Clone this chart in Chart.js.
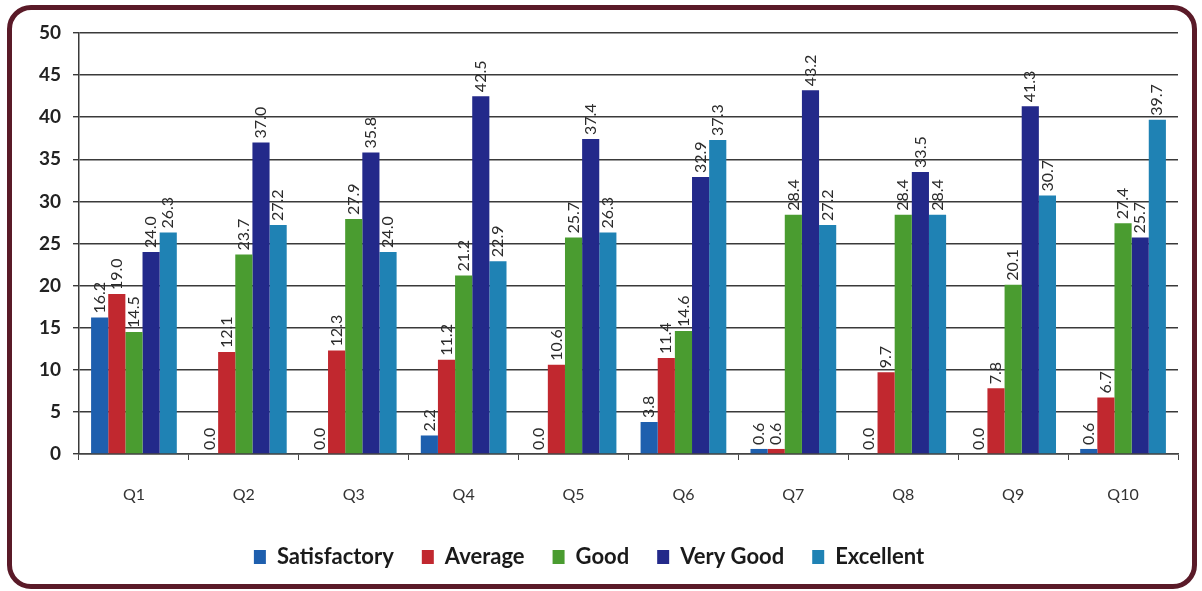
<!DOCTYPE html>
<html>
<head>
<meta charset="utf-8">
<script src="https://cdn.jsdelivr.net/npm/chart.js@4"></script>
<style>
    body { margin: 0; background: #fff; }
    .frame {
        position: absolute; left: 7px; top: 5px; width: 1180px; height: 574px;
        border: 5px solid #5a1a28; border-radius: 24px;
    }
    #wrap { position: absolute; left: 0; top: 0; width: 1202px; height: 591px; }
</style>
</head>
<body>
<div class="frame"></div>
<div id="wrap"><canvas id="surveyChart" width="1202" height="591"></canvas></div>
<script>
// Survey data per question
const questions = ['Q1', 'Q2', 'Q3', 'Q4', 'Q5', 'Q6', 'Q7', 'Q8', 'Q9', 'Q10'];
const satisfactory = [16.2, 0.0, 0.0, 2.2, 0.0, 3.8, 0.6, 0.0, 0.0, 0.6];
const average = [19.0, 12.1, 12.3, 11.2, 10.6, 11.4, 0.6, 9.7, 7.8, 6.7];
const good = [14.5, 23.7, 27.9, 21.2, 25.7, 14.6, 28.4, 28.4, 20.1, 27.4];
const veryGood = [24.0, 37.0, 35.8, 42.5, 37.4, 32.9, 43.2, 33.5, 41.3, 25.7];
const excellent = [26.3, 27.2, 24.0, 22.9, 26.3, 37.3, 27.2, 28.4, 30.7, 39.7];
const yTicks = [0, 5, 10, 15, 20, 25, 30, 35, 40, 45, 50];

const font = 'Lato, "Open Sans", sans-serif';

// Draw the rotated value labels above each bar
const barLabels = {
    id: 'barLabels',
    afterDatasetsDraw(chart) {
        const ctx = chart.ctx;
        ctx.save();
        ctx.fillStyle = '#2b2b2b';
        ctx.font = '16px ' + font;
        chart.data.datasets.forEach((ds, i) => {
            chart.getDatasetMeta(i).data.forEach((bar, j) => {
                ctx.save();
                ctx.translate(bar.x, bar.y - 4);
                ctx.rotate(-Math.PI / 2);
                ctx.textAlign = 'left';
                ctx.textBaseline = 'middle';
                ctx.fillText(ds.data[j].toFixed(1), 0, 0);
                ctx.restore();
            });
        });
        ctx.restore();
    }
};

const ctx = document.getElementById('surveyChart').getContext('2d');
const surveyChart = new Chart(ctx, {
    type: 'bar',
    data: {
        labels: questions,
        datasets: [
            { label: 'Satisfactory', data: satisfactory, backgroundColor: '#1e5fae' },
            { label: 'Average', data: average, backgroundColor: '#c1282f' },
            { label: 'Good', data: good, backgroundColor: '#4a9c30' },
            { label: 'Very Good', data: veryGood, backgroundColor: '#23298a' },
            { label: 'Excellent', data: excellent, backgroundColor: '#1f82b4' }
        ]
    },
    options: {
        responsive: false,
        animation: false,
        datasets: {
            bar: { categoryPercentage: 0.78, barPercentage: 1.0 }
        },
        layout: {
            padding: { left: 0, top: 33, right: 24, bottom: 13 }
        },
        plugins: {
            legend: {
                position: 'bottom',
                labels: {
                    boxWidth: 12,
                    boxHeight: 14,
                    padding: 28,
                    color: '#1a1a1a',
                    font: { family: font, size: 22, weight: 'bold' }
                }
            },
            tooltip: { enabled: false }
        },
        scales: {
            x: {
                afterFit: (scale) => { scale.height = 64; },
                grid: {
                    drawOnChartArea: false,
                    drawTicks: true,
                    tickLength: 6,
                    color: '#444'
                },
                border: { color: '#444', width: 1.5 },
                ticks: {
                    padding: 25,
                    color: '#333',
                    font: { family: font, size: 16 }
                }
            },
            y: {
                min: 0,
                max: 50,
                afterFit: (scale) => { scale.width = 79; },
                afterBuildTicks: (scale) => { scale.ticks = yTicks.map(v => ({ value: v })); },
                grid: {
                    color: '#3a3a3a',
                    lineWidth: 1.4,
                    tickLength: 6
                },
                border: { color: '#3a3a3a', width: 1.5 },
                ticks: {
                    padding: 12,
                    color: '#222',
                    font: { family: font, size: 19, weight: 'bold' }
                }
            }
        }
    },
    plugins: [barLabels]
});
</script>
</body>
</html>
